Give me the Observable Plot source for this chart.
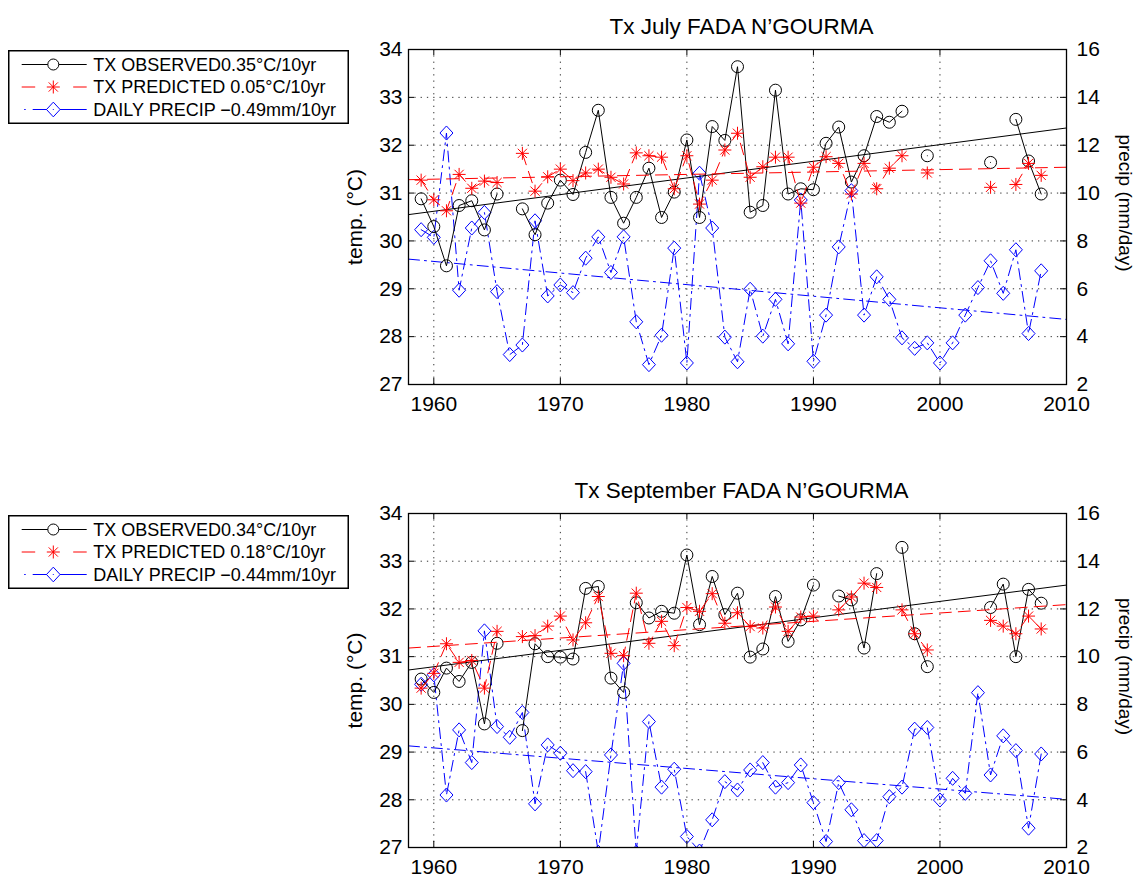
<!DOCTYPE html>
<html><head><meta charset="utf-8">
<script src="https://cdn.jsdelivr.net/npm/d3@7"></script>
<script src="https://cdn.jsdelivr.net/npm/@observablehq/plot@0.6"></script>
<style>
body{margin:0;background:#fff;font-family:"Liberation Sans",Arial,Helvetica,sans-serif;}
#root{position:relative;width:1138px;height:877px;overflow:hidden;background:#fff;}
.panel{position:absolute;left:0;}
.legend{position:absolute;left:8px;}
</style></head><body><div id="root"></div>
<script>
// ---------- data ----------
const years = [1959,1960,1961,1962,1963,1964,1965,1966,1967,1968,1969,1970,1971,1972,1973,1974,1975,1976,1977,1978,1979,1980,1981,1982,1983,1984,1985,1986,1987,1988,1989,1990,1991,1992,1993,1994,1995,1996,1997,1998,1999,2000,2001,2002,2003,2004,2005,2006,2007,2008];

const julyObs = [30.88,30.30,29.48,30.74,30.84,30.23,30.98,null,30.67,30.13,30.79,31.27,30.97,31.85,32.73,30.91,30.37,30.91,31.52,30.49,31.02,32.11,30.49,32.39,32.10,33.64,30.60,30.74,33.15,30.98,31.09,31.07,32.04,32.38,31.23,31.78,32.60,32.48,32.71,null,31.78,null,null,null,null,31.64,null,32.54,31.67,30.98];
const julyPred = [31.27,30.86,30.63,31.39,31.10,31.25,31.22,null,31.83,31.04,31.34,31.50,31.26,31.42,31.50,31.33,31.19,31.84,31.78,31.75,31.09,31.78,30.77,31.27,31.90,32.25,31.33,31.55,31.75,31.75,30.79,31.54,31.76,31.62,30.98,31.62,31.09,31.52,31.78,null,31.42,null,null,null,null,31.12,null,31.18,31.62,31.37];
const julyPrecip = [8.47,8.15,12.51,5.94,8.54,9.19,5.88,3.25,3.65,8.84,5.70,6.16,5.84,7.28,8.17,6.68,8.17,4.62,2.83,4.06,7.70,2.90,10.83,8.54,3.98,2.95,5.98,4.02,5.56,3.70,9.71,2.97,4.90,7.75,10.10,4.90,6.50,5.56,3.95,3.51,3.74,2.90,3.74,4.90,6.05,7.17,5.81,7.63,4.13,6.75];

const septObs = [30.53,30.25,30.76,30.48,30.88,29.59,31.28,null,29.45,31.27,31.00,30.99,30.95,32.43,32.47,30.55,30.25,32.13,31.81,31.95,31.91,33.13,31.67,32.68,31.88,32.33,30.99,31.16,32.26,31.32,31.77,32.50,null,32.27,32.19,31.18,32.74,null,33.29,31.48,30.79,null,null,null,null,32.03,32.52,31.00,32.41,32.12];
const septPred = [30.34,30.65,31.27,30.88,30.92,30.34,31.53,null,31.42,31.44,31.64,31.85,31.35,31.71,32.26,31.07,31.02,32.33,31.28,31.74,31.23,32.03,31.95,32.32,31.70,31.92,31.63,31.60,32.04,31.53,31.83,31.85,null,31.98,32.25,32.54,32.45,null,31.98,31.48,31.14,null,null,null,null,31.76,31.64,31.48,31.85,31.58];
const septPrecip = [8.84,9.24,4.20,6.93,5.56,11.08,7.07,6.62,7.66,3.83,6.30,5.95,5.22,5.18,1.80,5.88,9.72,1.80,7.28,4.53,5.28,2.46,1.85,3.16,4.76,4.41,5.25,5.56,4.53,4.72,5.46,3.88,2.25,4.72,3.58,2.29,2.29,4.13,4.53,6.96,7.03,3.99,4.90,4.27,8.49,5.04,6.68,6.06,2.81,5.92];

// linear trends, values at the axis ends
const trendYears = [1958, 2010];
const julyTrendObs = [30.55, 32.36];
const julyTrendPred = [31.28, 31.54];
const julyTrendPrecip = [7.24, 4.72];
const septTrendObs = [30.72, 32.50];
const septTrendPred = [31.18, 32.09];
const septTrendPrecip = [6.26, 4.02];

const xTicks = [1960, 1970, 1980, 1990, 2000, 2010];
const tempTicks = [27, 28, 29, 30, 31, 32, 33, 34];
const precipTicks = [2, 4, 6, 8, 10, 12, 14, 16];

const titles = ["Tx July FADA N\u2019GOURMA", "Tx September FADA N\u2019GOURMA"];
const legendLabels = [
  ["TX OBSERVED0.35\u00B0C/10yr", "TX PREDICTED 0.05\u00B0C/10yr", "DAILY PRECIP \u22120.49mm/10yr"],
  ["TX OBSERVED0.34\u00B0C/10yr", "TX PREDICTED 0.18\u00B0C/10yr", "DAILY PRECIP \u22120.44mm/10yr"]
];

// ---------- helpers ----------
// precip axis (right) is linked to temp axis (left): 2..16 mm/day <-> 27..34 °C
const toTemp = p => (p == null ? NaN : 27 + (p - 2) / 2);
const toPrecip = t => Math.round(2 + (t - 27) * 2);

const starSym = {draw(ctx, size) {
  const r = Math.sqrt(size / Math.PI), d = r * 0.7071;
  ctx.moveTo(-r, 0); ctx.lineTo(r, 0);
  ctx.moveTo(0, -r); ctx.lineTo(0, r);
  ctx.moveTo(-d, -d); ctx.lineTo(d, d);
  ctx.moveTo(-d, d); ctx.lineTo(d, -d);
}};
const diamondSym = {draw(ctx, size) {
  const r = Math.sqrt(size / Math.PI);
  ctx.moveTo(0, -r * 1.05); ctx.lineTo(r * 0.97, 0); ctx.lineTo(0, r * 1.05); ctx.lineTo(-r * 0.97, 0); ctx.closePath();
}};

const FONT = '"Liberation Sans", Arial, Helvetica, sans-serif';
const RED = "#ff0000", BLUE = "#0000ff";
const DASH = "12,7", DASHDOT = "11,5,2,5";

function panel(idx, obs, pred, precip, tObs, tPred, tPrecip, top, height, marginBottom) {
  const marginTop = 49, marginLeft = 408, marginRight = 72, width = 1138;
  const H = height - marginTop - marginBottom, W = width - marginLeft - marginRight;
  const data = years.map((year, i) => ({year, obs: obs[i], pred: pred[i], pr: toTemp(precip[i])}));
  const trend = trendYears.map((year, i) => ({year, obs: tObs[i], pred: tPred[i], pr: toTemp(tPrecip[i])}));
  const gridStyle = {stroke: "#000", strokeOpacity: 0.8, strokeWidth: 1, strokeDasharray: "1.3,5"};
  const chart = Plot.plot({
    width, height, marginTop, marginBottom, marginLeft, marginRight,
    x: {domain: [1958, 2010], label: null},
    y: {domain: [27, 34], label: null},
    style: {fontFamily: FONT, fontSize: "21px", background: "white", color: "black", overflow: "visible"},
    marks: [
      Plot.gridX({ticks: xTicks.slice(0, -1), ...gridStyle}),
      Plot.gridY({ticks: tempTicks.slice(1, -1), ...gridStyle}),
      // precipitation (right axis)
      Plot.line(trend, {x: "year", y: "pr", stroke: BLUE, strokeWidth: 1, strokeDasharray: DASHDOT, clip: true}),
      Plot.line(data, {x: "year", y: "pr", stroke: BLUE, strokeWidth: 1, strokeDasharray: DASHDOT, clip: true}),
      Plot.dot(data, {x: "year", y: "pr", symbol: diamondSym, r: 6.7, stroke: BLUE, fill: "none", strokeWidth: 1, clip: true}),
      // observed
      Plot.line(trend, {x: "year", y: "obs", stroke: "#000", strokeWidth: 1}),
      Plot.line(data, {x: "year", y: "obs", stroke: "#000", strokeWidth: 1}),
      Plot.dot(data, {x: "year", y: "obs", r: 6, stroke: "#000", fill: "none", strokeWidth: 1}),
      // predicted
      Plot.line(trend, {x: "year", y: "pred", stroke: RED, strokeWidth: 1, strokeDasharray: DASH}),
      Plot.line(data, {x: "year", y: "pred", stroke: RED, strokeWidth: 1, strokeDasharray: DASH}),
      Plot.dot(data, {x: "year", y: "pred", symbol: starSym, r: 6.5, stroke: RED, fill: "none", strokeWidth: 1}),
      // frame and inward ticks
      Plot.frame({stroke: "#000", strokeWidth: 1.3}),
      Plot.tickX(xTicks, {x: d => d, insetTop: H - 6, stroke: "#000"}),
      Plot.tickX(xTicks, {x: d => d, insetBottom: H - 6, stroke: "#000"}),
      Plot.tickY(tempTicks, {y: d => d, insetRight: W - 6, stroke: "#000"}),
      Plot.tickY(precipTicks.map(toTemp), {y: d => d, insetLeft: W - 6, stroke: "#000"}),
      // axes labels
      Plot.axisX({ticks: xTicks, tickFormat: d => String(d), tickSize: 0, tickPadding: 12, fontSize: 21, label: null}),
      Plot.axisY({ticks: tempTicks, tickFormat: d => String(d), tickSize: 0, tickPadding: 6, fontSize: 21, label: null}),
      Plot.axisY({anchor: "right", ticks: precipTicks.map(toTemp), tickFormat: t => String(toPrecip(t)), tickSize: 0, tickPadding: 10, fontSize: 21, label: null}),
      Plot.text([titles[idx]], {text: d => d, frameAnchor: "top", textAnchor: "middle", lineAnchor: "middle", dy: -23, dx: 4, fontSize: 22.5}),
      Plot.text(["temp. (\u00B0C)"], {text: d => d, frameAnchor: "left", rotate: -90, textAnchor: "middle", lineAnchor: "middle", dx: -53, fontSize: 21}),
      Plot.text(["precip (mm/day)"], {text: d => d, frameAnchor: "right", rotate: 90, textAnchor: "middle", lineAnchor: "middle", dx: 59, dy: -14, fontSize: 19})
    ]
  });
  chart.classList.add("panel");
  chart.style.top = top + "px";
  document.getElementById("root").appendChild(chart);
}

function legend(idx, top) {
  const w = 341, h = 74;
  const svg = d3.create("svg").attr("width", w).attr("height", h).attr("class", "legend")
    .style("top", top + "px").style("font-family", FONT);
  svg.append("rect").attr("x", 0.75).attr("y", 0.75).attr("width", w - 1.5).attr("height", h - 1.5)
    .attr("fill", "#fff").attr("stroke", "#000").attr("stroke-width", 1.5);
  const rows = [14.5, 37, 59.5];
  const x0 = 13.7, x1 = 78.7, xm = 45.3, xt = 85.3;
  // observed
  let g = svg.append("g").attr("transform", `translate(0,${rows[0]})`);
  g.append("path").attr("d", `M${x0},0H${xm - 5.5}M${xm + 5.5},0H${x1}`).attr("stroke", "#000").attr("stroke-width", 1);
  g.append("circle").attr("cx", xm).attr("r", 5.5).attr("fill", "none").attr("stroke", "#000");
  // predicted
  g = svg.append("g").attr("transform", `translate(0,${rows[1]})`);
  g.append("path").attr("d", `M${x0},0H${x0 + 13.5}M${x1 - 13.5},0H${x1}`).attr("stroke", RED).attr("stroke-width", 1);
  g.append("path").attr("transform", `translate(${xm},0)`).attr("d", d3.symbol(starSym, Math.PI * 6.5 * 6.5)()).attr("fill", "none").attr("stroke", RED);
  // precip
  g = svg.append("g").attr("transform", `translate(0,${rows[2]})`);
  g.append("path").attr("d", `M${x0 + 2.5},0H${x0 + 4}M${x0 + 11},0H${xm - 6.5}M${xm + 6.5},0H${x1}`).attr("stroke", BLUE).attr("stroke-width", 1);
  g.append("path").attr("transform", `translate(${xm},0)`).attr("d", d3.symbol(diamondSym, Math.PI * 7 * 7)()).attr("fill", "none").attr("stroke", BLUE);
  g.append("circle").attr("cx", xm).attr("r", 0.6).attr("fill", BLUE);
  legendLabels[idx].forEach((t, i) => {
    svg.append("text").attr("x", xt).attr("y", rows[i]).attr("dy", "0.35em").attr("font-size", 18).attr("fill", "#000").text(t);
  });
  document.getElementById("root").appendChild(svg.node());
}

panel(0, julyObs, julyPred, julyPrecip, julyTrendObs, julyTrendPred, julyTrendPrecip, 0, 464, 80);
panel(1, septObs, septPred, septPrecip, septTrendObs, septTrendPred, septTrendPrecip, 464, 413, 30);
legend(0, 50);
legend(1, 515);
</script></body></html>
